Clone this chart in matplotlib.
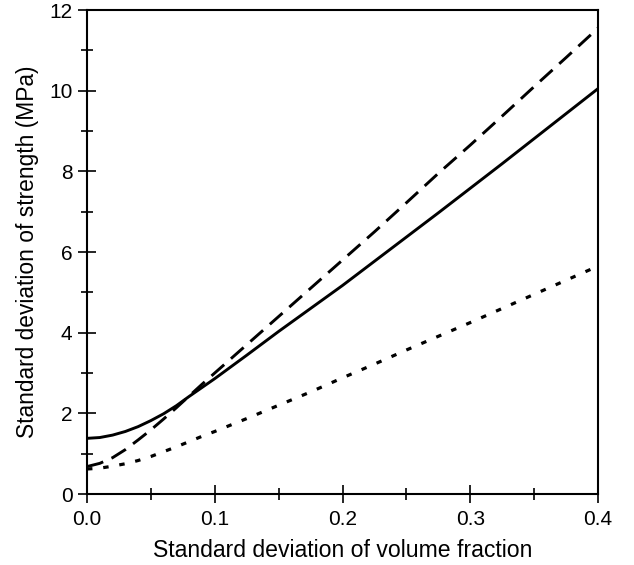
import numpy as np
import matplotlib
matplotlib.use('Agg')
import matplotlib.pyplot as plt
from matplotlib.ticker import MultipleLocator

plt.rcParams['font.family'] = ['Liberation Sans', 'DejaVu Sans']

# values
x_vals = [0.0, 0.01, 0.02, 0.03, 0.04, 0.05, 0.06, 0.07, 0.08, 0.09, 0.1,
          0.125, 0.15, 0.175, 0.2, 0.225, 0.25, 0.275, 0.3, 0.325, 0.35, 0.375, 0.4]
solid = [1.38, 1.40, 1.46, 1.55, 1.67, 1.82, 1.99, 2.19, 2.42, 2.64, 2.86,
         3.44, 4.03, 4.60, 5.17, 5.77, 6.37, 6.97, 7.58, 8.19, 8.81, 9.43, 10.05]
dashed = [0.68, 0.76, 0.90, 1.10, 1.34, 1.59, 1.86, 2.14, 2.43, 2.72, 3.00,
          3.70, 4.40, 5.10, 5.80, 6.50, 7.22, 7.95, 8.65, 9.37, 10.10, 10.82, 11.55]
dotted = [0.62, 0.64, 0.69, 0.75, 0.83, 0.93, 1.05, 1.17, 1.30, 1.43, 1.55,
          1.87, 2.20, 2.53, 2.88, 3.22, 3.57, 3.91, 4.25, 4.60, 4.95, 5.30, 5.65]

xticks = [0.0, 0.1, 0.2, 0.3, 0.4]
xticklabels = ['0.0', '0.1', '0.2', '0.3', '0.4']
yticks = [0, 2, 4, 6, 8, 10, 12]

fig = plt.figure(figsize=(6.34, 5.65), dpi=100)
ax = fig.add_axes([87/634, 71/565, (598-87)/634, (494-10)/565])

ax.plot(x_vals, solid, color='black', lw=2.1)
ax.plot(x_vals, dashed, color='black', lw=2.1, dashes=(5.8, 3.1))
ax.plot(x_vals, dotted, color='black', lw=2.3, dashes=(1.7, 3.4))

ax.set_xlim(0, 0.4)
ax.set_ylim(0, 12)
ax.set_xticks(xticks)
ax.set_xticklabels(xticklabels)
ax.set_yticks(yticks)
ax.xaxis.set_minor_locator(MultipleLocator(0.05))
ax.yaxis.set_minor_locator(MultipleLocator(1))

for s in ax.spines.values():
    s.set_linewidth(1.5)
ax.tick_params(which='major', direction='inout', length=13, width=1.2, labelsize=15, pad=4)
ax.tick_params(which='minor', direction='inout', length=8, width=1.2)
ax.tick_params(axis='x', which='major', pad=5)

ax.set_xlabel('Standard deviation of volume fraction', fontsize=16.6, labelpad=7)
ax.set_ylabel('Standard deviation of strength (MPa)', fontsize=16.4, labelpad=7)

plt.savefig('out.png', dpi=100)
